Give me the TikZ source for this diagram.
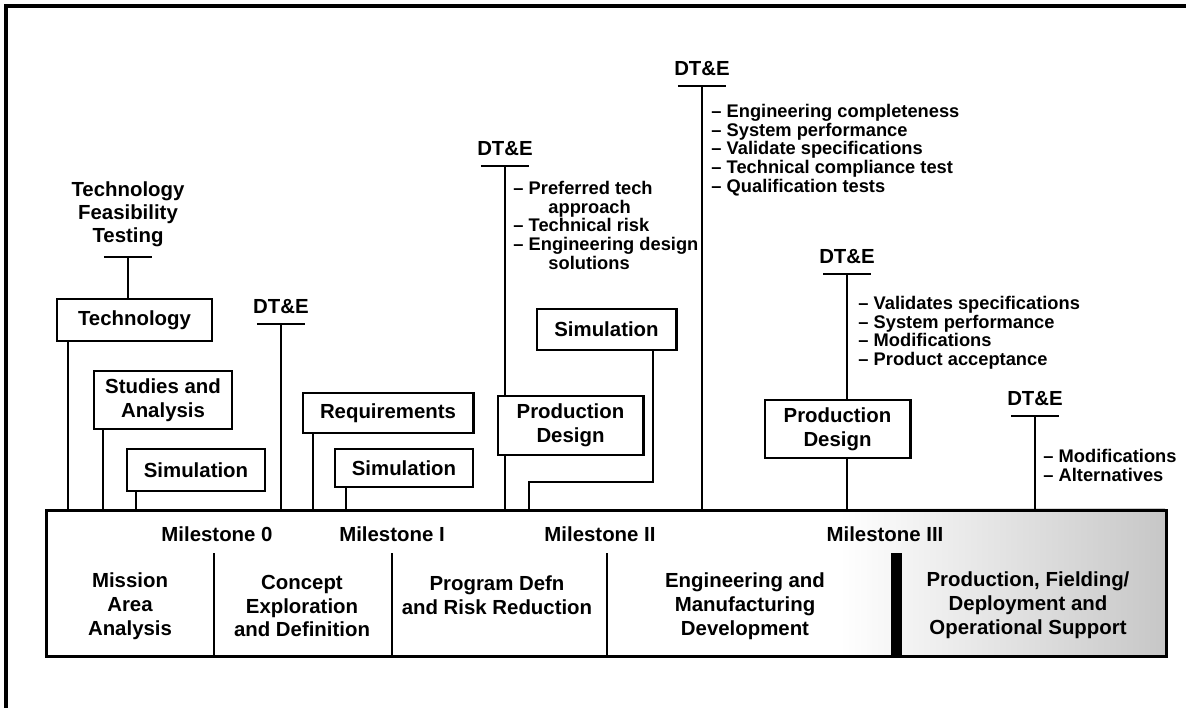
\documentclass[tikz,border=0pt]{standalone}
\usepackage{fontspec}
\setmainfont{Liberation Sans}
\usepackage{tikz}

\begin{document}
\begin{tikzpicture}[x=0.025cm, y=-0.025cm, line width=2.1pt,
             every node/.style = {font=\fontsize{14.5}{17}\selectfont\bfseries, align=center},
             box/.style={draw, fill=white, inner sep=0pt},
             dte/.style={anchor=south, inner xsep=0pt, inner ysep=6pt},
             items/.style={anchor=north west, inner sep=0pt, align=left,
                           font=\fontsize{13}{13.4}\selectfont\bfseries}]
\useasboundingbox (0,0) rectangle (1186,708);
\draw [line width=2.4pt] (6,708) -- (6,6) -- (1186,6);

% life cycle bar
\shade [left color=white, right color=black!22] (840,509) rectangle (1165,655);
\node (bar) [draw, anchor=north west, inner sep=0pt, minimum width=28cm, minimum height=3.65cm] at (45,509) {};
\foreach \x in {214,392,607} \draw (\x,553) -- (\x,655);
\fill (891,553) rectangle (902,655);

\node (ms0) at (217,534) {Milestone 0};
\node (ms1) at (392,534) {Milestone I};
\node (ms2) at (600,534) {Milestone II};
\node (ms3) at (885,534) {Milestone III};

\node (mission) at (130,606) {Mission\\Area\\Analysis};
\node (concept) at (302,606) {Concept\\Exploration\\and Definition};
\node (pdrr) at (497,595) {Program Defn\\and Risk Reduction};
\node (emd) at (745,606) {Engineering and\\Manufacturing\\Development};
\node (pfd) at (1028,605) {Production, Fielding/\\Deployment and\\Operational Support};

% activities
\node (feas) [anchor=south, inner ysep=6pt, font=\fontsize{14.5}{16.5}\selectfont\bfseries] at (128,257) {Technology\\Feasibility\\Testing};
\node (tech) [box, minimum width=3.875cm, minimum height=1.05cm] at (134.5,320) {Technology};
\node (studies) [box, minimum width=3.45cm, minimum height=1.45cm] at (163,400) {Studies and\\Analysis};
\node (sim1) [box, minimum width=3.45cm, minimum height=1.05cm] at (196,470) {Simulation};
\node (req) [box, minimum width=4.25cm, minimum height=1cm] at (388,413) {Requirements};
\node (sim2) [box, minimum width=3.45cm, minimum height=0.95cm] at (404,468) {Simulation};
\node (sim3) [box, minimum width=3.475cm, minimum height=1.025cm] at (606.5,329.5) {Simulation};
\node (prod2) [box, minimum width=3.625cm, minimum height=1.45cm] at (837.5,429) {Production\\Design};

\node (dte1) [dte] at (281,324) {DT\&E};
\node (dte2) [dte] at (505,166) {DT\&E};
\node (dte3) [dte] at (702,86) {DT\&E};
\node (dte4) [dte] at (847,274) {DT\&E};
\node (dte5) [dte] at (1035,416) {DT\&E};

\foreach \n in {feas,dte1,dte2,dte3,dte4,dte5}
  \draw ([xshift=-0.6cm]\n.south) -- ([xshift=0.6cm]\n.south);

% connectors down to the bar
\draw (feas.south) -- (feas.south |- tech.north);
\foreach \n/\x in {tech/68, studies/103, sim1/136, req/313, sim2/346} {
  \coordinate (f-\n) at (\x,509);
  \draw (\n.south -| f-\n) -- (f-\n);
}
\foreach \n in {dte1,dte2,dte3,dte5}
  \draw (\n.south) -- (\n.south |- bar.north);
\draw (dte4.south) -- (dte4.south |- prod2.north);
\draw (prod2.south -| dte4.south) -- (dte4.south |- bar.north);

\coordinate (s3top) at (653,0);
\coordinate (s3bend) at (529,482);
\draw (sim3.south -| s3top) |- (s3bend) -- (s3bend |- bar.north);

\node (prod1) [box, minimum width=3.625cm, minimum height=1.475cm] at (570.5,425.5) {Production\\Design};

% test objectives
\node (items2) [items] at (512,179.5) {\textendash\ Preferred tech\\\hspace*{0.875cm}approach\\\textendash\ Technical risk\\\textendash\ Engineering design\\\hspace*{0.875cm}solutions};
\node (items3) [items] at (710,102.5) {\textendash\ Engineering completeness\\\textendash\ System performance\\\textendash\ Validate specifications\\\textendash\ Technical compliance test\\\textendash\ Qualification tests};
\node (items4) [items] at (857,294.5) {\textendash\ Validates specifications\\\textendash\ System performance\\\textendash\ Modifications\\\textendash\ Product acceptance};
\node (items5) [items] at (1042,447.5) {\textendash\ Modifications\\\textendash\ Alternatives};

\end{tikzpicture}
\end{document}
